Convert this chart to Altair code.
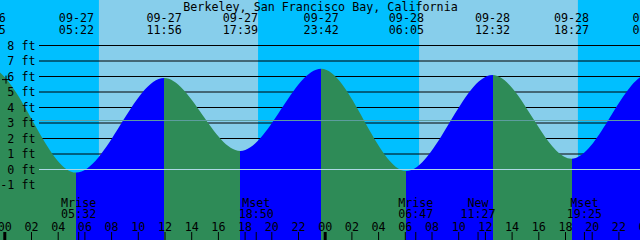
import altair as alt
import pandas as pd

# ---------------- values ----------------
TITLE = "Berkeley, San Francisco Bay, California"

# tide extremes: date, clock time, height (ft); first/last are just outside the view
tide_date = ["09-26", "09-26", "09-27", "09-27", "09-27", "09-27",
             "09-28", "09-28", "09-28", "09-29", "09-29"]
tide_clock = ["16:40", "22:45", "05:22", "11:56", "17:39", "23:42",
              "06:05", "12:32", "18:27", "00:20", "06:50"]
tide_height = [1.4, 6.6, -0.2, 5.9, 1.2, 6.5, -0.1, 6.1, 0.7, 6.2, -0.3]
tide_labelled = [False, True, True, True, True, True, True, True, True, True, False]

# sun
sun_date = ["09-27", "09-27", "09-28", "09-28"]
sun_clock = ["07:03", "18:59", "07:02", "18:56"]

# moon events
moon_name = ["Mrise", "Mset", "Mrise", "New", "Mset"]
moon_date = ["09-27", "09-27", "09-28", "09-28", "09-28"]
moon_clock = ["05:32", "18:50", "06:47", "11:27", "19:25"]

# axes
hour_ticks = [0, 2, 4, 6, 8, 10, 12, 14, 16, 18, 20, 22, 24,
              26, 28, 30, 32, 34, 36, 38, 40, 42, 44, 46, 48]
midnights = [0, 24, 48]
depth_ft = [-1, 0, 1, 2, 3, 4, 5, 6, 7, 8]
datum_ft = [0]
msl_ft = [3.16]
now_mark = {"t": 0.09, "ft": 5.8}

# ---------------- styling ----------------
FONT = "DejaVu Sans Mono"
FS = 11.7
NIGHT = "#00BFFF"
DAY = "#87CEEB"
FLOOD = "#0000FF"
EBB = "#2E8B57"
W, H = 640, 240
X0, PXH = 4.8, 13.35          # pixel of 09-27 00:00, pixels per hour
Y0, PXF = 169.5, 15.5         # pixel of 0 ft, pixels per foot
FT_MIN, FT_MAX = (Y0 - H) / PXF, Y0 / PXF


def hours(d, c):
    day = int(d[3:]) - 27
    hh, mm = c.split(":")
    return day * 24 + int(hh) + int(mm) / 60.0


xs = alt.Scale(domain=[-X0 / PXH, (W - X0) / PXH], nice=False, zero=False)
ys = alt.Scale(domain=[FT_MIN, FT_MAX], nice=False, zero=False)

tide = pd.DataFrame({
    "t": [hours(d, c) for d, c in zip(tide_date, tide_clock)],
    "ft": tide_height,
    "date": tide_date,
    "clock": tide_clock,
    "lab": tide_labelled,
})
tide["base"] = FT_MIN
tide_lab = tide[tide["lab"]]

sun_t = [hours(d, c) for d, c in zip(sun_date, sun_clock)]
sky = pd.DataFrame({
    "start": [-5, sun_t[0], sun_t[1], sun_t[2], sun_t[3]],
    "end": [sun_t[0], sun_t[1], sun_t[2], sun_t[3], 53],
    "kind": ["night", "day", "night", "day", "night"],
})

moon = pd.DataFrame({
    "t": [hours(d, c) for d, c in zip(moon_date, moon_clock)],
    "name": moon_name,
    "clock": moon_clock,
})

hours_df = pd.DataFrame({"t": hour_ticks,
                         "lab": ["%02d" % (h % 24) for h in hour_ticks]})
mid_df = pd.DataFrame({"t": midnights})
depth_df = pd.DataFrame({"ft": depth_ft, "lab": ["%d ft" % f for f in depth_ft]})

# gradient: rising = flood colour, falling = ebb colour
t_first, t_last = tide["t"].iloc[0], tide["t"].iloc[-1]
stops = []
for i in range(len(tide) - 1):
    col = FLOOD if tide_height[i + 1] > tide_height[i] else EBB
    a = (tide["t"].iloc[i] - t_first) / (t_last - t_first)
    b = (tide["t"].iloc[i + 1] - t_first) / (t_last - t_first)
    stops.append(alt.GradientStop(color=col, offset=float(a)))
    stops.append(alt.GradientStop(color=col, offset=float(b)))
grad = alt.LinearGradient(gradient="linear", stops=stops, x1=0, x2=1, y1=0, y2=0)

X = lambda f: alt.X(f, scale=xs, axis=None)
Y = lambda f: alt.Y(f, scale=ys, axis=None)

sky_l = alt.Chart(sky).mark_rect(clip=True).encode(
    x=X("start:Q"), x2="end:Q", y=alt.value(0), y2=alt.value(H),
    color=alt.Color("kind:N", scale=alt.Scale(domain=["night", "day"], range=[NIGHT, DAY]), legend=None),
)

grid_l = alt.Chart(depth_df).mark_rule(color="black", strokeWidth=1).encode(
    y=Y("ft:Q"), x=alt.value(39), x2=alt.value(W)
)

area_l = alt.Chart(tide).mark_area(interpolate="monotone", fill=grad, clip=True).encode(
    x=X("t:Q"), y=Y("ft:Q"), y2="base:Q"
)

datum_l = alt.Chart(pd.DataFrame({"ft": datum_ft})).mark_rule(color="#ADD8E6", strokeWidth=1).encode(
    y=Y("ft:Q"), x=alt.value(39), x2=alt.value(W)
)
msl_l = alt.Chart(pd.DataFrame({"ft": msl_ft})).mark_rule(color="#5F9EA0", strokeWidth=1).encode(
    y=Y("ft:Q"), x=alt.value(39), x2=alt.value(W)
)

txt = dict(font=FONT, fontSize=FS, color="black", baseline="middle")

depth_lab = alt.Chart(depth_df).mark_text(align="right", **txt).encode(
    y=Y("ft:Q"), x=alt.value(35.5), text="lab:N"
)

now_l = alt.Chart(pd.DataFrame([now_mark])).mark_point(
    shape="M-1,0L1,0M0,-1L0,1", size=64, filled=False, color="black", strokeWidth=1, opacity=1
).encode(x=X("t:Q"), y=Y("ft:Q"))

title_l = alt.Chart(pd.DataFrame({"txt": [TITLE]})).mark_text(align="center", **txt).encode(
    x=alt.value(320.5), y=alt.value(6.5), text="txt:N"
)

top_date = alt.Chart(tide_lab).mark_text(align="center", **txt).encode(
    x=X("t:Q"), y=alt.value(17.5), text="date:N"
)
top_clock = alt.Chart(tide_lab).mark_text(align="center", **txt).encode(
    x=X("t:Q"), y=alt.value(30), text="clock:N"
)

moon_name_l = alt.Chart(moon).mark_text(align="center", **txt).encode(
    x=X("t:Q"), y=alt.value(203.3), text="name:N"
)
moon_clock_l = alt.Chart(moon).mark_text(align="center", **txt).encode(
    x=X("t:Q"), y=alt.value(214), text="clock:N"
)

hour_lab = alt.Chart(hours_df).mark_text(align="center", **txt).encode(
    x=X("t:Q"), y=alt.value(226.6), text="lab:N"
)
hour_tick = alt.Chart(hours_df).mark_rule(color="black", strokeWidth=1).encode(
    x=X("t:Q"), y=alt.value(232), y2=alt.value(H)
)
mid_tick = alt.Chart(mid_df).mark_rule(color="black", strokeWidth=3).encode(
    x=X("t:Q"), y=alt.value(232), y2=alt.value(H)
)
moon_tick = alt.Chart(moon).mark_rule(color="black", strokeWidth=1).encode(
    x=X("t:Q"), y=alt.value(232), y2=alt.value(H)
)

chart = alt.layer(
    sky_l, grid_l, area_l, datum_l, msl_l, depth_lab, now_l, title_l,
    top_date, top_clock, moon_name_l, moon_clock_l, hour_lab, hour_tick, mid_tick, moon_tick,
).properties(
    width=W, height=H, padding=0, autosize="none", background=NIGHT
).configure_view(stroke=None)

chart.save("out.html", embed_options={"renderer": "svg", "actions": False})
